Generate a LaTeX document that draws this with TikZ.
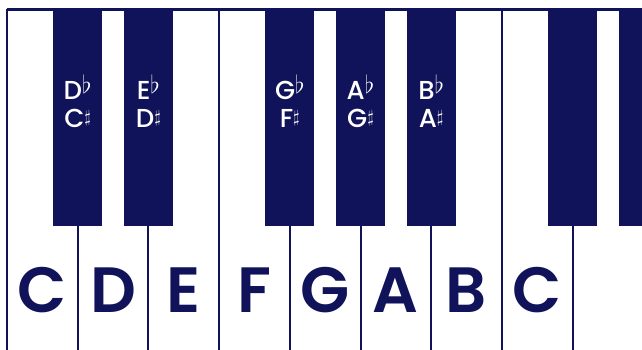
\documentclass[tikz,border=0pt]{standalone}
\usepackage{fontspec}
\setmainfont{Poppins}[BoldFont={Poppins SemiBold}]
\newfontfamily\labelfont{Poppins Medium}
\usetikzlibrary{positioning}
\definecolor{navy}{HTML}{10125A}

\begin{document}
\begin{tikzpicture}[x=1pt, y=-1pt,
  whitekey/.style={rectangle, draw=navy, line width=2pt, fill=white,
                   minimum width=70.7pt, minimum height=360pt,
                   anchor=north west, inner sep=0pt, outer sep=0pt},
  blackkey/.style={rectangle, fill=navy, minimum width=49pt,
                   minimum height=216pt, anchor=north, inner sep=0pt},
  note/.style={font=\fontsize{64}{64}\selectfont\bfseries, text=navy,
               anchor=base, inner sep=0pt},
  accid/.style={font=\fontsize{26}{28}\selectfont\labelfont, text=white,
                align=center, inner sep=0pt}
]
  \clip (0,0) rectangle (642,350);
  \fill[white] (0,0) rectangle (642,350);
  \draw[navy, line width=3pt] (7,9.5) -- (642,9.5);

  % white keys with their letters
  \foreach \i/\name in {0/C,1/D,2/E,3/F,4/G,5/A,6/B,7/C,8/{}} {
    \node[whitekey] (w\i) at ({7+70.7*\i},10) {};
    \node[note] (n\i) at (w\i.north |- 0,312) {\name};
  }

  % black keys, centred on the gaps
  \foreach \k in {1,2,4,5,6,8,9} {
    \node[blackkey] (b\k) at ({7+70.7*\k},10) {};
  }
  \foreach \k/\up/\lo in {1/D/C,2/E/D,4/G/F,5/A/G,6/B/A} {
    \node[accid] (l\k) at ([yshift=-91pt]b\k.north)
      {\up\raisebox{6pt}{\fontsize{30}{30}\selectfont$\flat$}\\
       \lo\raisebox{5pt}{\fontsize{19}{19}\selectfont$\sharp$}};
  }
\end{tikzpicture}
\end{document}
